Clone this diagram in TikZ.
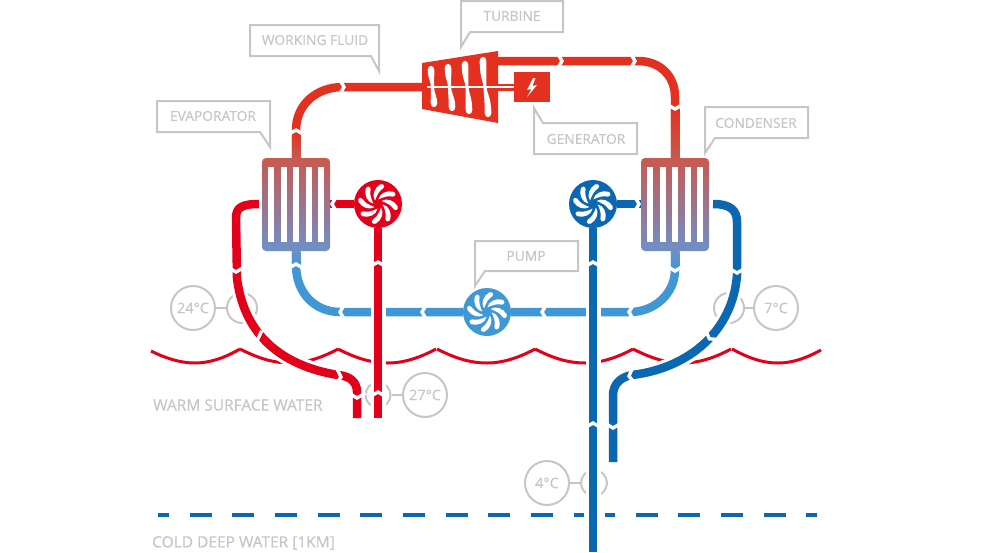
\documentclass[tikz,border=0pt]{standalone}
\usepackage{fontspec}
\setmainfont{Open Sans}
\newfontfamily\labelfont[FakeBold=0.6]{Open Sans}
\usepackage{xcolor}
\usetikzlibrary{positioning}

\definecolor{hotfluid}{HTML}{E3301F}
\definecolor{warmwater}{HTML}{E2001A}
\definecolor{coldfluid}{HTML}{3F97D3}
\definecolor{coldwater}{HTML}{0A67B0}
\definecolor{labelgrey}{HTML}{C6C6C6}
\definecolor{extop}{HTML}{C85A50}
\definecolor{exbottom}{HTML}{6E90C8}

\tikzset{
  pipe/.style={line width=8.5pt},
  halo/.style={draw=white,line width=15pt},
  tag/.style={draw=labelgrey,line width=2pt},
  tagtext/.style={text=labelgrey,font=\labelfont\fontsize{13.8}{14}\selectfont,inner sep=0pt},
  watertext/.style={text=labelgrey,font=\labelfont\fontsize{15.5}{16}\selectfont,inner sep=0pt,anchor=west},
  sensor/.style={circle,draw=labelgrey,line width=2pt,minimum size=44pt,inner sep=0pt,
                 text=labelgrey,font=\labelfont\fontsize{14.5}{15}\selectfont},
  probe/.style={circle,draw=labelgrey,line width=2pt,inner sep=0pt},
  pump/.style={circle,minimum size=48pt,inner sep=0pt},
  exchanger/.style={rectangle,rounded corners=4pt,minimum width=68pt,minimum height=93pt,
                    inner sep=0pt,top color=extop,bottom color=exbottom},
  flowmark/.pic={\draw[white,line width=3.4pt] (-4,-8.5) -- (1,0) -- (-4,8.5);},
  fanblades/.pic={
    \foreach \a in {0,45,...,315}
      \fill[white,rotate=\a] (3.5,-3) .. controls (9,-6.5) and (16,-3.5) .. (19.5,2)
        .. controls (21,5.5) and (17.5,7.5) .. (15.5,5)
        .. controls (13,1) and (9,-1) .. (3.5,-3) -- cycle;
  }
}

\begin{document}
\begin{tikzpicture}[x=1pt,y=-1pt]
\useasboundingbox (0,0) rectangle (1000,552);

% waves
\begin{scope}[line width=3pt,warmwater]
  \draw (151,351) .. controls (165,358) and (180,363) .. (195,363) .. controls (212,363) and (228,356) .. (240,349);
  \foreach \x in {240,338,437,535,633}
    \draw (\x,349) .. controls (\x+14,356) and (\x+30,363) .. (\x+50,363) .. controls (\x+68,363) and (\x+85,356) .. (\x+98,349);
  \draw (732,349) .. controls (745,356) and (760,363) .. (778,363) .. controls (795,363) and (810,356) .. (821,350);
\end{scope}

% deep water line
\draw[coldwater,line width=4.5pt,dash pattern=on 22pt off 20.67pt,dash phase=11pt] (158,515) -- (584,515);
\draw[coldwater,line width=4.5pt,dash pattern=on 22pt off 20.67pt,dash phase=12pt] (605,515) -- (817,515);

\node[watertext] (warmLabel) at (153,405) {WARM SURFACE WATER};
\node[watertext] (deepLabel) at (152,543) {COLD DEEP WATER [1KM]};

% temperatures
\node[sensor] (t24) at (193,308) {24°C};
\node[probe,minimum size=30pt] (p24) at (242,308) {};
\draw[tag] (t24) -- (p24);
\node[sensor] (t27) at (425,395) {27°C};
\node[probe,minimum size=25pt] (p27) at (378,395) {};
\draw[tag] (t27) -- (p27);
\node[sensor] (t7) at (776,308) {7°C};
\node[probe,minimum size=30pt] (p7) at (729,308) {};
\draw[tag] (t7) -- (p7);
\node[sensor] (t4) at (547,483) {4°C};
\node[probe,minimum size=26pt] (p4) at (594,483) {};
\draw[tag] (t4) -- (p4);

% callouts
\draw[tag] (461,1) -- (563,1) -- (563,32) -- (470,32) -- (461,47) -- cycle;
\node[tagtext] (turbineLabel) at (512,16) {TURBINE};
\draw[tag] (250,25) -- (379,25) -- (379,71) -- (371,56) -- (250,56) -- cycle;
\node[tagtext] (fluidLabel) at (315,40) {WORKING FLUID};
\draw[tag] (157,101) -- (270,101) -- (270,147) -- (260,132) -- (157,132) -- cycle;
\node[tagtext] (evapLabel) at (213,116) {EVAPORATOR};
\draw[tag] (534,108) -- (543,123) -- (637,123) -- (637,154) -- (534,154) -- cycle;
\node[tagtext] (genLabel) at (586,139) {GENERATOR};
\draw[tag] (705,107) -- (808,107) -- (808,138) -- (715,138) -- (705,153) -- cycle;
\node[tagtext] (condLabel) at (756,123) {CONDENSER};
\draw[tag] (475,241) -- (578,241) -- (578,271) -- (485,271) -- (475,286) -- cycle;
\node[tagtext] (pumpLabel) at (526,256) {PUMP};

% placed first, drawn over the pipes further down
\coordinate (evap) at (296,204.5);
\coordinate (cond) at (675,204.5);
\coordinate (turbineIn) at (422,87);
\coordinate (turbineOut) at (498,61);
\coordinate (warmIn) at (378,418);
\coordinate (warmOut) at (357,418);
\coordinate (coldIn) at (593,552);
\coordinate (coldOut) at (613,462);

% warm return
\path[halo] (warmOut) -- (357,392) .. controls (357,382) and (350,376) .. (338,375)
   .. controls (295,368) and (245,345) .. (237,278);
\draw[pipe,warmwater] (warmOut) -- (357,392) .. controls (357,382) and (350,376) .. (338,375)
   .. controls (295,368) and (245,345) .. (237,278) -- (236,218)
   .. controls (236,208) and (241,204) .. (259,204);

% cold return
\path[halo] (coldOut) -- (613,395) .. controls (613,385) and (620,377) .. (632,375)
   .. controls (690,368) and (733,330) .. (737,275);
\draw[pipe,coldwater] (coldOut) -- (613,395) .. controls (613,385) and (620,377) .. (632,375)
   .. controls (690,368) and (733,330) .. (737,275) -- (737,222)
   .. controls (737,210) and (730,204) .. (713,204);

% working fluid, cold side
\node[pump,fill=coldfluid] (fluidPump) at (487,312) {};
\draw[pipe,coldfluid] (fluidPump) -- (340,312) .. controls (315,312) and (296,293) .. (296,265) -- (evap);
\draw[pipe,coldfluid] (cond) -- (675,270) .. controls (675,293) and (655,312) .. (630,312) -- (fluidPump);

% working fluid, hot side
\draw[pipe,hotfluid] (evap) -- (296,130) .. controls (296,105) and (316,87) .. (343,87) -- (turbineIn);
\draw[pipe,hotfluid] (turbineOut) -- (638,61) .. controls (660,61) and (675,76) .. (675,97) -- (cond);

% seawater pipes through the pumps
\path[halo] (warmIn) -- (378,228);
\node[pump,fill=warmwater] (warmPump) at (378,204) {};
\draw[pipe,warmwater] (warmIn) -- (warmPump);
\path[halo] (coldIn) -- (593,228);
\node[pump,fill=coldwater] (coldPump) at (593,204) {};
\draw[pipe,coldwater] (coldIn) -- (coldPump);

% stubs take the colour of the exchanger
\shade[top color=hotfluid,bottom color=extop] (291.75,131) rectangle (300.25,158);
\shade[top color=hotfluid,bottom color=extop] (670.75,108) rectangle (679.25,158);
\shade[top color=exbottom,bottom color=coldfluid] (291.75,251) rectangle (300.25,265);
\shade[top color=exbottom,bottom color=coldfluid] (670.75,251) rectangle (679.25,270);

\draw[pipe,warmwater] (warmPump) -- (330,204);
\draw[pipe,coldwater] (coldPump) -- (641,204);

% exchangers
\node[exchanger] (evapBox) at (evap) {};
\node[exchanger] (condBox) at (cond) {};
\foreach \x in {271,283.5,296,308.5,321}
  \fill[white] (\x-3,167) rectangle (\x+3,242);
\foreach \x in {650,662.5,675,687.5,700}
  \fill[white] (\x-3,167) rectangle (\x+3,242);

% fans
\draw (fluidPump) pic {fanblades};
\draw (warmPump) pic {fanblades};
\draw (coldPump) pic {fanblades};

% turbine and generator
\node[minimum width=76pt,minimum height=72pt,inner sep=0pt] (turbine) at (460,87) {};
\fill[hotfluid] (422,63) -- (498,51) -- (498,123) -- (422,109) -- cycle;
\node[fill=hotfluid,minimum width=36pt,minimum height=30pt,inner sep=0pt] (generator) at (532,87) {};
\draw[hotfluid,line width=7pt] (turbine.east) -- (generator.west);
\foreach \xa/\ya/\xm/\xb/\yb in {431/67/432.5/434/106,448/65/449.5/452/110,465/62/467/469/113,483/58/485/488/116}
  \fill[white] (\xa-3.3,\ya+3) .. controls (\xa-3.3,\ya-2.5) and (\xa+3.3,\ya-2.5) .. (\xa+3.3,\ya+3)
    .. controls (\xa+3.3,78) and (\xm+1.5,82) .. (\xm+1.5,87)
    .. controls (\xm+1.5,92) and (\xb+3.3,98) .. (\xb+3.3,\yb-3)
    .. controls (\xb+3.3,\yb+2.5) and (\xb-3.3,\yb+2.5) .. (\xb-3.3,\yb-3)
    .. controls (\xb-3.3,98) and (\xm-1.5,92) .. (\xm-1.5,87)
    .. controls (\xm-1.5,82) and (\xa-3.3,78) .. (\xa-3.3,\ya+3) -- cycle;
\draw[white,line width=2pt] (427,87) -- (generator.west);
\fill[white] (533,78) -- (527,90) -- (531.5,89) -- (527,97) -- (537,85) -- (532.5,86) -- (535.5,78) -- cycle;

% flow direction
\foreach \x/\y/\r in {296/131/90,343/87/0,561/61/0,634/61/0,675/108/270,
                      296/265/90,341/312/180,423/312/180,543/312/180,630/312/180,675/270/270,
                      378/263/90,378/393/90,333/204/180,236/271/270,257/339/305,340/377/-5,357/397/270,
                      593/263/90,593/424/90,638/204/0,737/272/270,710/338/235,630/376/188,613/427/270}
  \draw (\x,\y) pic[rotate=\r] {flowmark};
\end{tikzpicture}
\end{document}
